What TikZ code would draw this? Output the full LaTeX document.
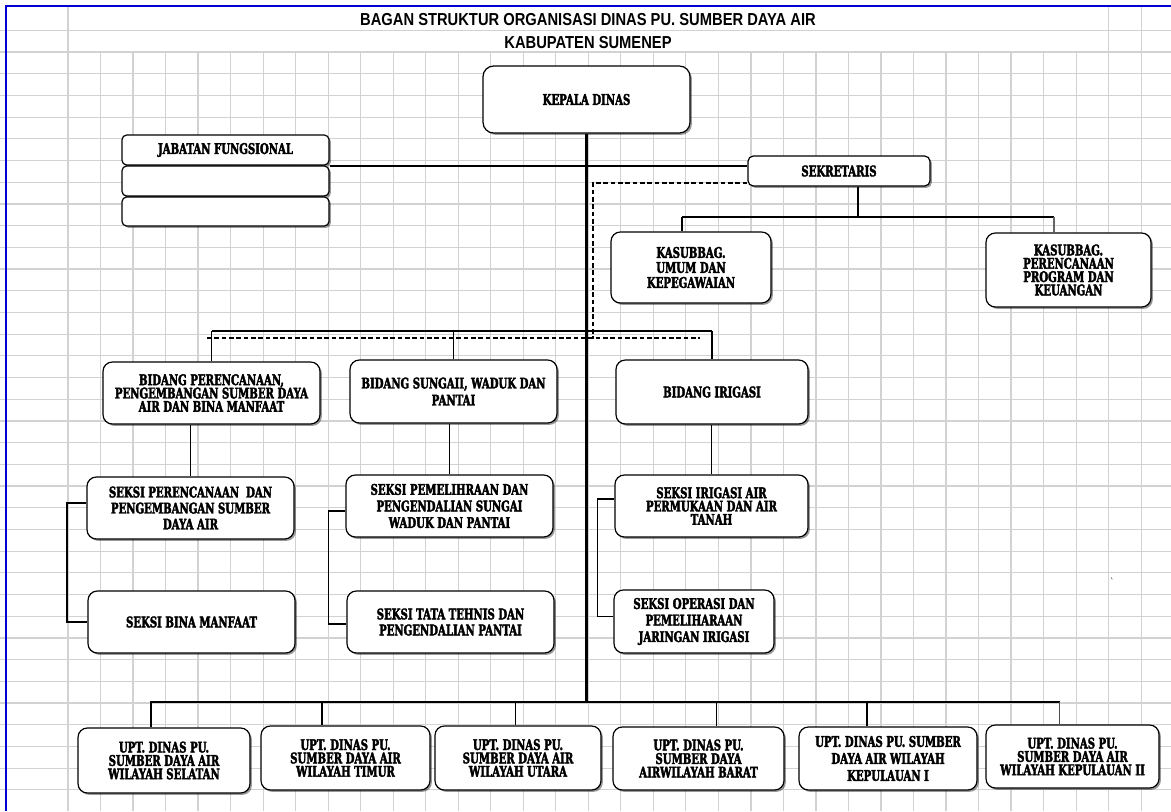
\documentclass[tikz,border=0pt]{standalone}
\usepackage{fontspec}
\usetikzlibrary{shadows,calc}
\newfontfamily\bxf{DejaVu Serif}[FakeStretch=0.69, BoldFeatures={FakeBold=2.5}]
\newfontfamily\ttlf{Liberation Sans}[FakeStretch=0.85]
\definecolor{gridc}{RGB}{210,210,210}
\definecolor{bordc}{RGB}{0,0,210}
\pgfdeclarelayer{back}
\pgfdeclarelayer{conn}
\pgfsetlayers{back,conn,main}
\begin{document}
\begin{tikzpicture}[x=0.75pt,y=-0.75pt,
 gridl/.style={draw=gridc, line width=0.9pt},
 box/.style={draw=black, line width=0.9pt, fill=white, rounded corners=7pt, inner sep=0pt, align=center,
   font=\bxf\bfseries\fontsize{11pt}{12pt}\selectfont,
   drop shadow={shadow xshift=1.4pt, shadow yshift=-1.4pt, fill=black, opacity=0.4}},
 sbox/.style={box, rounded corners=3.5pt},
 sz/.style 2 args={minimum width=#1*0.75pt, minimum height=#2*0.75pt},
 lsp/.style={font=\bxf\bfseries\fontsize{11pt}{#1}\selectfont},
 bus/.style={draw=black, line width=1.6pt},
 drop/.style={draw=black, line width=0.9pt},
 brk/.style={draw=black, line width=1.2pt},
 dsh/.style={draw=black, line width=1.5pt, dash pattern=on 3.5pt off 2pt},
 ttl/.style={font=\ttlf\bfseries\fontsize{13pt}{15pt}\selectfont, inner sep=0pt}
]
\useasboundingbox (0,0) rectangle (1171,811);

% ---------- grid ----------
\begin{pgfonlayer}{back}
\fill[white] (0,0) rectangle (1171,811);
\foreach \k in {0,...,35} \draw[gridl] (0,{30.3+21.7*\k}) -- (1171,{30.3+21.7*\k});
\foreach \k in {1,...,31} \draw[gridl] ({68+32.52*\k},52) -- ({68+32.52*\k},811);
\foreach \k in {0,32,33} \draw[gridl] ({68+32.52*\k},6) -- ({68+32.52*\k},811);
\draw[bordc, line width=1.6pt] (6,811) -- (6,6) -- (1171,6);
\end{pgfonlayer}

% ---------- title ----------
\node[ttl] (t1) at (588,19.7) {BAGAN STRUKTUR ORGANISASI DINAS PU. SUMBER DAYA AIR};
\node[ttl] (t2) at (588,42.5) {KABUPATEN SUMENEP};

% ---------- boxes ----------
\node[box, rounded corners=8pt, sz={207}{67}] (kd) at (586.5,99.5) {KEPALA DINAS};
\node[sbox, sz={207}{30}] (jf1) at (225.5,150) {JABATAN FUNGSIONAL};
\node[sbox, sz={207}{30}] (jf2) at (225.5,181) {};
\node[sbox, sz={207}{29}] (jf3) at (225.5,211.5) {};
\node[sbox, rounded corners=4pt, sz={182}{30}] (sek) at (839,171) {SEKRETARIS};
\node[box, lsp=11.25pt, sz={160}{71}] (ku) at (691,267.5) {KASUBBAG.\\UMUM DAN\\KEPEGAWAIAN};
\node[box, lsp=10pt, sz={165}{74}] (kp) at (1068.5,270) {KASUBBAG.\\PERENCANAAN\\PROGRAM DAN\\KEUANGAN};

\node[box, lsp=10pt, sz={217}{62}] (bp) at (211.5,393) {BIDANG PERENCANAAN,\\PENGEMBANGAN SUMBER DAYA\\AIR DAN BINA MANFAAT};
\node[box, lsp=12.75pt, sz={207}{63}] (bs) at (453.5,391.5) {BIDANG SUNGAII, WADUK DAN\\PANTAI};
\node[box, sz={192}{64}] (bi) at (712,392) {BIDANG IRIGASI};

\node[box, lsp=12pt, sz={207}{62}] (sp) at (190.5,508) {SEKSI PERENCANAAN\ \ DAN\\PENGEMBANGAN SUMBER\\DAYA AIR};
\node[box, sz={207}{62}] (sbm) at (191.5,622) {SEKSI BINA MANFAAT};
\node[box, lsp=12.4pt, sz={207}{62}] (ss1) at (449.5,506) {SEKSI PEMELIHRAAN DAN\\PENGENDALIAN SUNGAI\\WADUK DAN PANTAI};
\node[box, lsp=12pt, sz={207}{62}] (ss2) at (450.5,622) {SEKSI TATA TEHNIS DAN\\PENGENDALIAN PANTAI};
\node[box, lsp=10pt, sz={193}{62}] (si1) at (711.5,506) {SEKSI IRIGASI AIR\\PERMUKAAN DAN AIR\\TANAH};
\node[box, lsp=12.4pt, sz={160}{63}] (si2) at (694,621.5) {SEKSI OPERASI DAN\\PEMELIHARAAN\\JARINGAN IRIGASI};

\node[box, lsp=10pt, sz={172}{65}] (u1) at (164,760.5) {UPT. DINAS PU.\\SUMBER DAYA AIR\\WILAYAH SELATAN};
\node[box, lsp=10pt, sz={169}{64}] (u2) at (345.5,758) {UPT. DINAS PU.\\SUMBER DAYA AIR\\WILAYAH TIMUR};
\node[box, lsp=10pt, sz={166}{64}] (u3) at (518,758) {UPT. DINAS PU.\\SUMBER DAYA AIR\\WILAYAH UTARA};
\node[box, lsp=10.2pt, sz={171}{63}] (u4) at (698.5,758.5) {UPT. DINAS PU.\\SUMBER DAYA\\AIRWILAYAH BARAT};
\node[box, lsp=12.75pt, sz={178}{63}] (u5) at (888,758.5) {UPT. DINAS PU. SUMBER\\DAYA AIR WILAYAH\\KEPULAUAN I};
\node[box, lsp=10pt, sz={173}{63}] (u6) at (1072.5,756.5) {UPT. DINAS PU.\\SUMBER DAYA AIR\\WILAYAH KEPULAUAN II};

\node[font=\bxf\fontsize{8pt}{8pt}\selectfont, inner sep=0pt] (tick) at (1113,582) {\textasciigrave};

% ---------- connectors ----------
\begin{pgfonlayer}{conn}
\coordinate (tb) at (587,702);
\draw[bus] (kd.south) -- (kd.south |- tb);
% jabatan - sekretaris
\draw[bus] (jf1.south east) -- (jf1.south east -| sek.west);
% dashed coordination line
\coordinate (dv) at (593,339);
\coordinate (dl) at (207,338);
\coordinate (dr) at (700,338);
\draw[dsh] ([yshift=3pt]sek.south west) -| (dv);
\draw[dsh] (dl) -- (dr);
% sekretaris sub-bus
\coordinate (sb) at (858,217);
\coordinate (sbl) at (682,217);
\coordinate (sbr) at (1054,217);
\draw[drop, line width=1.3pt] (sb |- sek.south) -- (sb);
\draw[bus] (sbl) -- (sbr);
\draw[drop, line width=1.2pt] (sbl) -- (sbl |- ku.north);
\draw[drop, draw=black!60] (sbr) -- (sbr |- kp.north);
% bidang bus
\coordinate (bb) at (587,331);
\draw[bus] (bp.north |- bb) -- (bi.north |- bb);
\draw[drop] (bp.north) -- (bp.north |- bb);
\draw[drop] (bs.north) -- (bs.north |- bb);
\draw[drop] (bi.north) -- (bi.north |- bb);
% bidang -> seksi
\draw[drop, line width=1.2pt] (sp.north) -- (sp.north |- bp.south);
\draw[drop, line width=1.2pt] (ss1.north) -- (ss1.north |- bs.south);
\draw[drop, line width=1.2pt] (si1.north) -- (si1.north |- bi.south);
% brackets
\draw[brk, line width=1.5pt] ($(sp.west)+(0,-5)$) -- ++(-19,0) |- (sbm.west);
\draw[brk] ($(ss1.west)+(0,5)$) -- ++(-17,0) |- ($(ss2.west)+(0,2)$);
\draw[brk] ($(si1.west)+(0,-7)$) -- ++(-17,0) |- ($(si2.west)+(0,-5)$);
% UPT bus
\coordinate (ub1) at (151,702);
\coordinate (ub2) at (322,702);
\coordinate (ub3) at (515.5,702);
\coordinate (ub4) at (716.5,702);
\coordinate (ub5) at (867,702);
\coordinate (ub6) at (1059.5,702);
\draw[bus] (ub1 |- u1.north) -- (ub1) -- (ub6);
\draw[drop] (ub2) -- (ub2 |- u2.north);
\draw[drop] (ub3) -- (ub3 |- u3.north);
\draw[drop] (ub4) -- (ub4 |- u4.north);
\draw[drop, line width=1.2pt] (ub5) -- (ub5 |- u5.north);
\draw[drop, draw=black!70] (ub6) -- (ub6 |- u6.north);
\end{pgfonlayer}
\end{tikzpicture}
\end{document}
